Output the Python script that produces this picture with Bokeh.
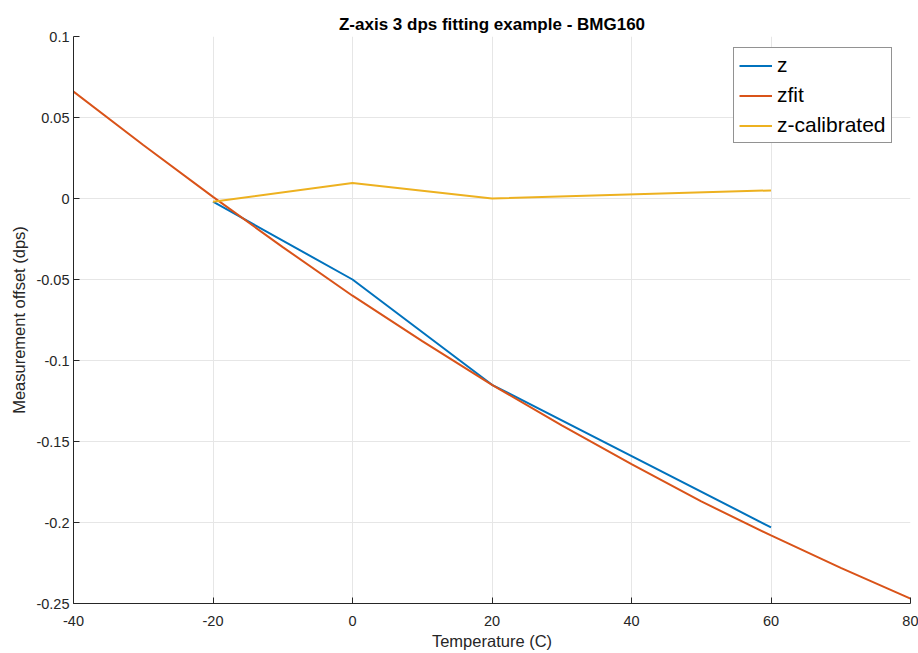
from bokeh.plotting import figure
from bokeh.models import FixedTicker, Legend, LegendItem, Range1d
from bokeh.embed import file_html
from bokeh.resources import INLINE

# --- data ---
z_temp = [-20, 0, 20, 60]
z_vals = [-0.002, -0.050, -0.115, -0.203]

zfit_temp = [-40, -30, -20, -10, 0, 10, 20, 30, 40, 50, 60, 70, 80]
zfit_vals = [0.066, 0.033, 0.001, -0.030, -0.060, -0.088, -0.115, -0.140,
             -0.164, -0.187, -0.208, -0.228, -0.247]

zcal_temp = [-20, 0, 20, 60]
zcal_vals = [-0.002, 0.0095, 0.0, 0.005]

x_ticks = [-40, -20, 0, 20, 40, 60, 80]
x_tick_labels = ["-40", "-20", "0", "20", "40", "60", "80"]
y_ticks = [-0.25, -0.2, -0.15, -0.1, -0.05, 0, 0.05, 0.1]
y_tick_labels = ["-0.25", "-0.2", "-0.15", "-0.1", "-0.05", "0", "0.05", "0.1"]

FONT = "Liberation Sans"
AX = "#262626"

p = figure(width=918, height=653, output_backend="svg", toolbar_location=None,
           x_range=Range1d(-40, 80), y_range=Range1d(-0.25, 0.1),
           min_border_left=73, min_border_right=8, min_border_top=36,
           min_border_bottom=50, title="Z-axis 3 dps fitting example - BMG160")
p.outline_line_color = None
p.background_fill_color = "white"
p.border_fill_color = "white"

p.title.align = "center"
p.title.text_font = FONT
p.title.text_font_size = "17px"
p.title.text_font_style = "bold"
p.title.text_color = "#000000"
p.title.offset = 0
p.title.standoff = 5

for ax, ticks, labels in ((p.xaxis[0], x_ticks, x_tick_labels),
                          (p.yaxis[0], y_ticks, y_tick_labels)):
    ax.ticker = FixedTicker(ticks=ticks)
    ax.major_label_overrides = {t: l for t, l in zip(ticks, labels)}
    ax.major_tick_in = 6
    ax.major_tick_out = 0
    ax.minor_tick_line_color = None
    ax.axis_line_color = AX
    ax.major_tick_line_color = AX
    ax.major_label_text_font = FONT
    ax.major_label_text_font_size = "14.5px"
    ax.major_label_text_color = AX
    ax.axis_label_text_font = FONT
    ax.axis_label_text_font_size = "16.5px"
    ax.axis_label_text_font_style = "normal"
    ax.axis_label_text_color = AX

p.xaxis.axis_label = "Temperature (C)"
p.yaxis.axis_label = "Measurement offset (dps)"
p.xaxis.major_label_standoff = 12
p.yaxis.major_label_standoff = 4
p.xaxis.axis_label_standoff = 3
p.yaxis.axis_label_standoff = 5

p.grid.grid_line_color = "#e6e6e6"
p.grid.grid_line_width = 1

r1 = p.line(z_temp, z_vals, line_color="#0072BD", line_width=2)
r2 = p.line(zfit_temp, zfit_vals, line_color="#D95319", line_width=2)
r3 = p.line(zcal_temp, zcal_vals, line_color="#EDB120", line_width=2)

legend = Legend(items=[LegendItem(label="z", renderers=[r1]),
                       LegendItem(label="zfit", renderers=[r2]),
                       LegendItem(label="z-calibrated", renderers=[r3])],
                location=(660, 460), margin=0, padding=5, spacing=6,
                glyph_width=33, glyph_height=23, label_height=23,
                label_standoff=5,
                label_text_font=FONT, label_text_font_size="21px",
                label_text_color="#000000",
                border_line_color=AX, border_line_width=1,
                background_fill_color="white", background_fill_alpha=1)
p.add_layout(legend, "center")

open("out.html", "w").write(file_html(p, INLINE))
